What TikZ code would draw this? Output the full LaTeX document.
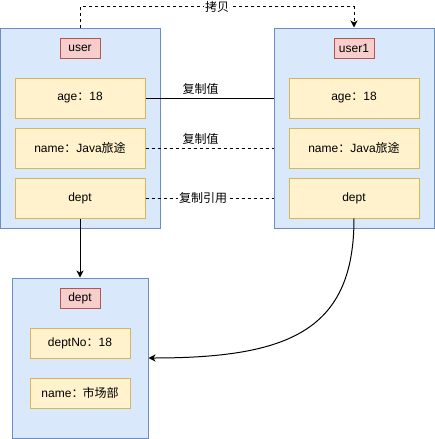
\documentclass[tikz,border=0pt]{standalone}
\usepackage{fontspec}
\setmainfont{Liberation Sans}
\newfontfamily\cjk{Noto Sans CJK SC}
\usetikzlibrary{arrows.meta}

\definecolor{boxfill}{HTML}{DAE8FC}
\definecolor{boxline}{HTML}{6C8EBF}
\definecolor{fieldfill}{HTML}{FFF2CC}
\definecolor{fieldline}{HTML}{D6B656}
\definecolor{titlefill}{HTML}{F8CECC}
\definecolor{titleline}{HTML}{B85450}

\tikzset{
  objbox/.style={rectangle, draw=boxline, fill=boxfill, inner sep=0pt},
  fieldbox/.style={rectangle, draw=fieldline, fill=fieldfill, inner sep=0pt, minimum width=130pt, minimum height=40pt},
  titlebox/.style={rectangle, draw=titleline, fill=titlefill, inner sep=0pt, minimum width=40pt, minimum height=20pt},
  dashline/.style={dash pattern=on 3pt off 3pt},
}

\begin{document}
\begin{tikzpicture}[x=1pt, y=-1pt, line width=1pt, font=\fontsize{12}{14}\selectfont, >={Stealth[length=7pt,width=7pt,inset=2pt]}]
\useasboundingbox (0,0) rectangle (435,439);

% objects
\node[objbox, minimum width=160pt, minimum height=200pt] (user) at (80,128) {};
\node[objbox, minimum width=160pt, minimum height=200pt] (user1) at (354,128) {};
\node[objbox, minimum width=136pt, minimum height=160pt] (dept) at (80,358) {};

\node[titlebox] (userT) at (80,48) {user};
\node[titlebox] (user1T) at (354,48) {user1};
\node[titlebox] (deptT) at (80,298) {dept};

% fields
\node[fieldbox] (uAge) at (80,98) {age{\cjk ：}18};
\node[fieldbox] (uName) at (80,148) {name{\cjk ：}Java{\cjk 旅途}};
\node[fieldbox] (uDept) at (80,198) {dept};
\node[fieldbox] (u1Age) at (354,98) {age{\cjk ：}18};
\node[fieldbox] (u1Name) at (354,148) {name{\cjk ：}Java{\cjk 旅途}};
\node[fieldbox] (u1Dept) at (354,198) {dept};
\node[fieldbox, minimum width=100pt, minimum height=30pt] (dNo) at (80,343) {deptNo{\cjk ：}18};
\node[fieldbox, minimum width=100pt, minimum height=30pt] (dName) at (80,393) {name{\cjk ：\kern-1pt 市场部}};

% links
\draw[dashline, ->] (user.north) -- ++(0,-21) -| node[pos=0.25, fill=white, inner sep=1pt] {\cjk 拷贝} (user1.north);
\draw (uAge.east) -- node[pos=0.43, above] {\cjk 复制值} (uAge.east -| user1.west);
\draw[dashline] (uName.east) -- node[pos=0.43, above] {\cjk 复制值} (uName.east -| user1.west);
\draw[dashline] (uDept.east) -- node[pos=0.45, fill=white, inner sep=1pt] {\cjk 复制引用} (uDept.east -| user1.west);
\draw[->] (uDept.south) -- (dept.north);
\draw[->] (u1Dept.south) .. controls (354,330) and (290,358) .. (dept.east);
\end{tikzpicture}
\end{document}
